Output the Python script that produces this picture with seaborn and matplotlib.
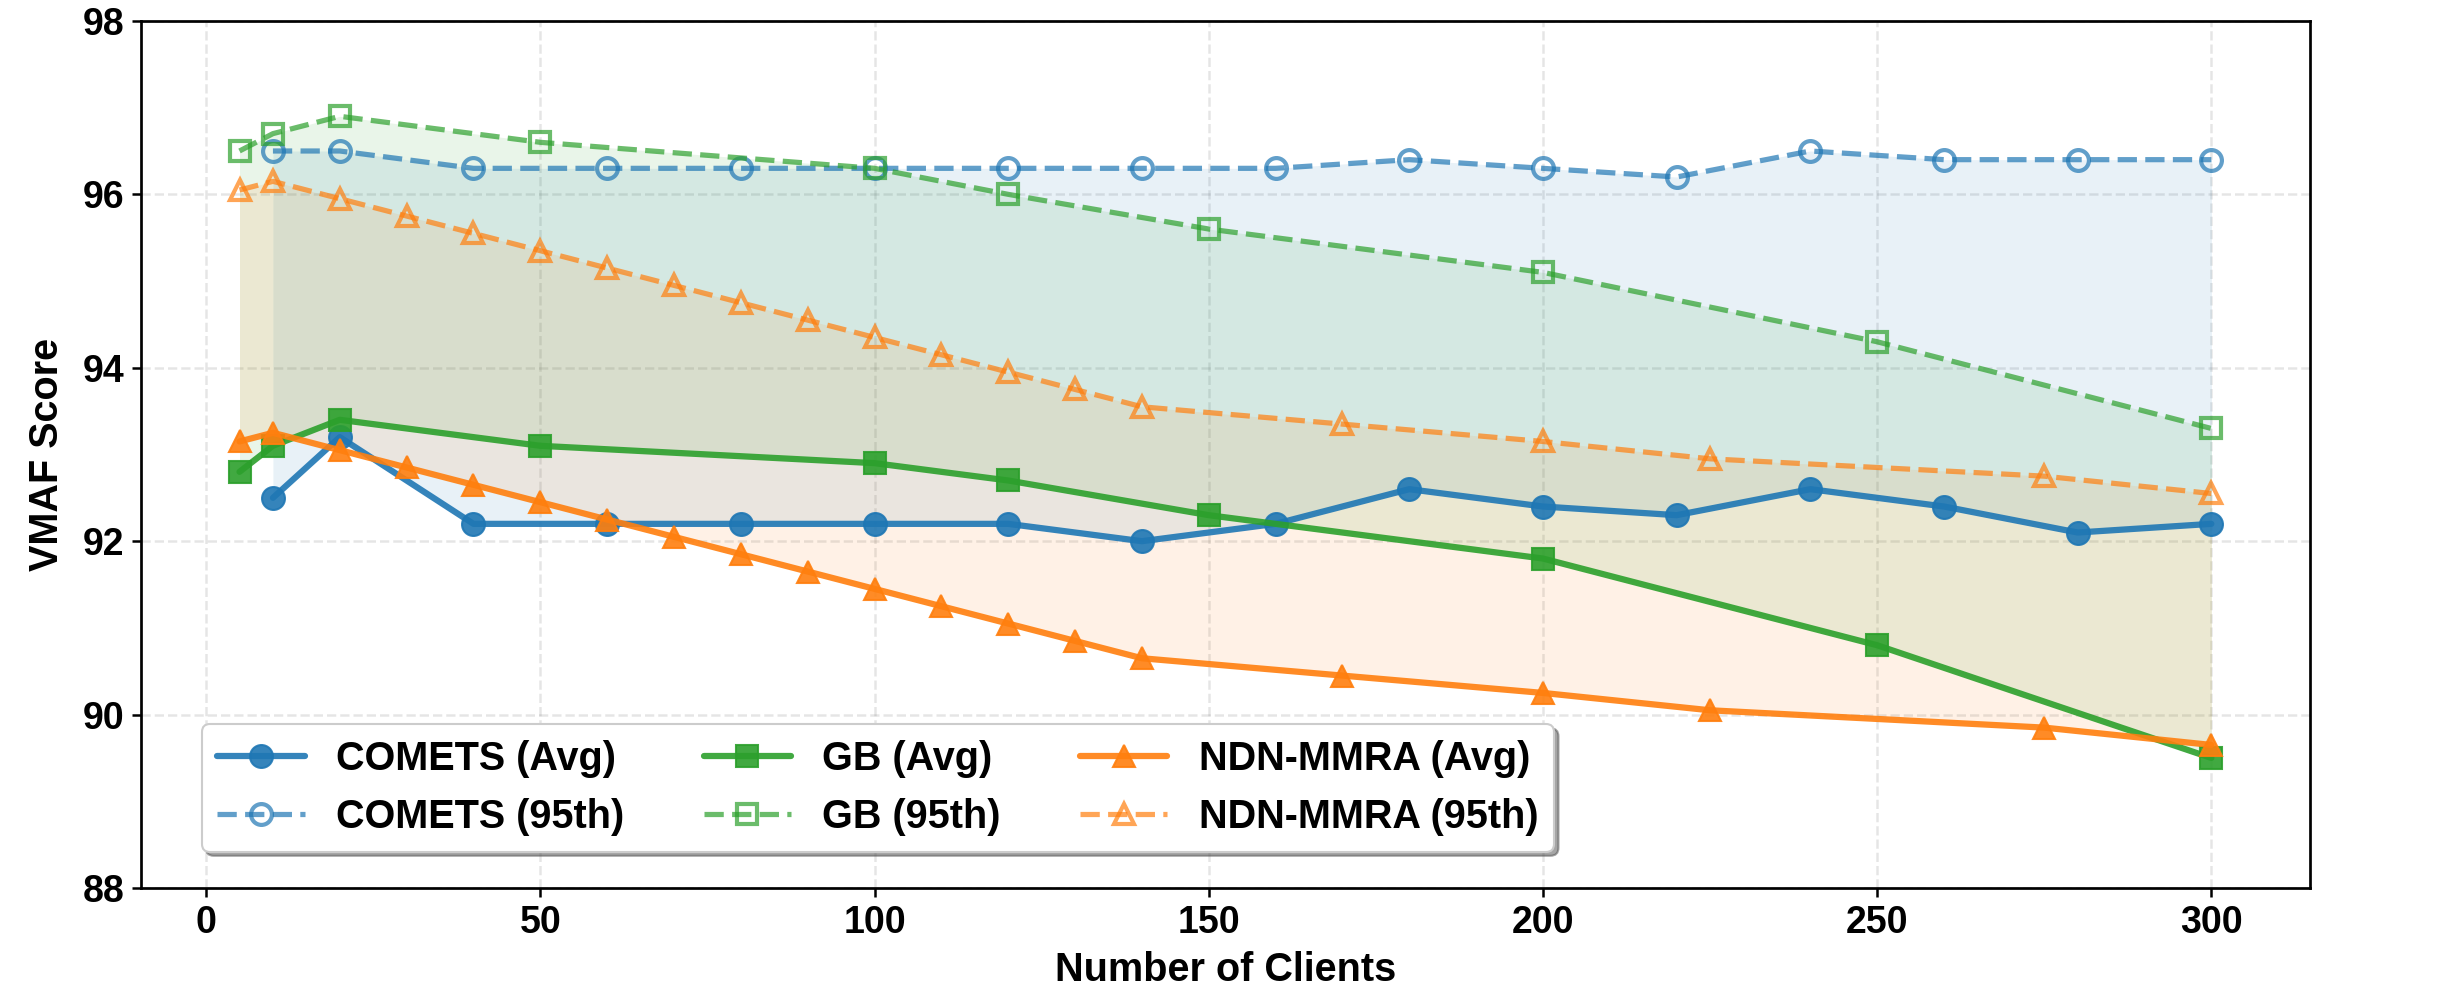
import matplotlib
matplotlib.use("Agg")
import matplotlib.pyplot as plt
import seaborn as sns
import numpy as np

# ---- data ----
comets_x = [10, 20, 40, 60, 80, 100, 120, 140, 160, 180, 200, 220, 240, 260, 280, 300]
comets_avg = [92.5, 93.2, 92.2, 92.2, 92.2, 92.2, 92.2, 92.0, 92.2, 92.6, 92.4, 92.3, 92.6, 92.4, 92.1, 92.2]
comets_p95 = [96.5, 96.5, 96.3, 96.3, 96.3, 96.3, 96.3, 96.3, 96.3, 96.4, 96.3, 96.2, 96.5, 96.4, 96.4, 96.4]

gb_x = [5, 10, 20, 50, 100, 120, 150, 200, 250, 300]
gb_avg = [92.8, 93.1, 93.4, 93.1, 92.9, 92.7, 92.3, 91.8, 90.8, 89.5]
gb_p95 = [96.5, 96.7, 96.9, 96.6, 96.3, 96.0, 95.6, 95.1, 94.3, 93.3]

ndn_x = [5, 10, 20, 30, 40, 50, 60, 70, 80, 90, 100, 110, 120, 130, 140, 170, 200, 225, 275, 300]
ndn_avg = [93.15, 93.25, 93.05, 92.85, 92.65, 92.45, 92.25, 92.05, 91.85, 91.65, 91.45,
           91.25, 91.05, 90.85, 90.65, 90.45, 90.25, 90.05, 89.85, 89.65]
ndn_p95 = [96.05, 96.15, 95.95, 95.75, 95.55, 95.35, 95.15, 94.95, 94.75, 94.55, 94.35,
           94.15, 93.95, 93.75, 93.55, 93.35, 93.15, 92.95, 92.75, 92.55]

methods = ["COMETS", "GB", "NDN-MMRA"]
colors = ["#1f77b4", "#2ca02c", "#ff7f0e"]
markers = ["o", "s", "^"]
xs = [comets_x, gb_x, ndn_x]
avgs = [comets_avg, gb_avg, ndn_avg]
p95s = [comets_p95, gb_p95, ndn_p95]

x_ticks = [0, 50, 100, 150, 200, 250, 300]
y_ticks = [88, 90, 92, 94, 96, 98]

# ---- style ----
sns.set_style("ticks")
plt.rcParams["font.family"] = ["Liberation Sans", "DejaVu Sans"]
plt.rcParams["font.weight"] = "bold"
plt.rcParams["text.color"] = "black"
plt.rcParams["axes.labelcolor"] = "black"
plt.rcParams["xtick.color"] = "black"
plt.rcParams["ytick.color"] = "black"

fig = plt.figure(figsize=(16.253, 6.627), dpi=150)
ax = fig.add_axes([0.0578, 0.1066, 0.8897, 0.8723])

for name, c, m, x, a, p in zip(methods, colors, markers, xs, avgs, p95s):
    sns.lineplot(x=x, y=a, ax=ax, color=c, marker=m, markersize=11,
                 linewidth=3, alpha=0.9, markeredgecolor=c, markeredgewidth=1,
                 label=f"{name} (Avg)", errorbar=None)
    sns.lineplot(x=x, y=p, ax=ax, color=c, marker=m, markersize=10,
                 linewidth=2.5, linestyle="--", alpha=0.7,
                 markerfacecolor="none", markeredgecolor=c, markeredgewidth=2,
                 label=f"{name} (95th)", errorbar=None)
    ax.fill_between(x, a, p, color=c, alpha=0.1, linewidth=0)

ax.set_ylim(88, 98)
ax.set_xticks(x_ticks)
ax.set_yticks(y_ticks)
ax.grid(True, linestyle="--", color="gray", alpha=0.2, linewidth=1.2)
ax.set_axisbelow(True)

for s in ax.spines.values():
    s.set_visible(True)
    s.set_linewidth(1.3)
    s.set_color("black")

ax.tick_params(axis="both", labelsize=18, length=4.5, width=1.2, color="black",
               labelcolor="black")
for lab in ax.get_xticklabels() + ax.get_yticklabels():
    lab.set_fontweight("bold")

ax.set_xlabel("Number of Clients", fontsize=19, fontweight="bold", labelpad=5, color="black")
ax.set_ylabel("VMAF Score", fontsize=19, fontweight="bold", labelpad=8, color="black")

leg = ax.legend(loc="lower left", bbox_to_anchor=(0.028, 0.042), borderaxespad=0,
                ncol=3, frameon=True, fancybox=True, shadow=True,
                framealpha=1.0, facecolor="white", edgecolor="0.8",
                handlelength=2.2, prop={"weight": "bold", "size": 19})
for t in leg.get_texts():
    t.set_color("black")

fig.savefig("out.png", dpi=150)
